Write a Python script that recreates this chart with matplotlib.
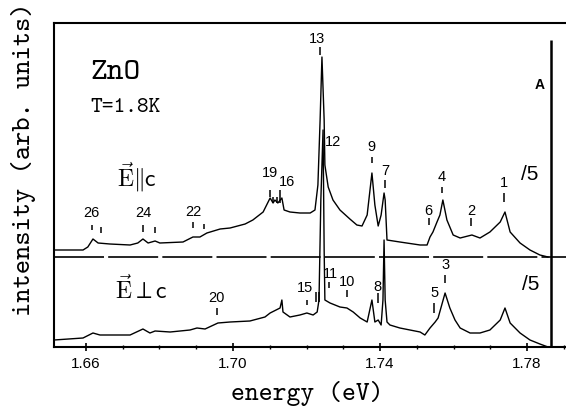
import matplotlib.pyplot as plt
import numpy as np

# upper trace, E || c  (energy in eV, intensity in arb. units)
par_energy = [1.6513, 1.6592, 1.6605, 1.6619, 1.6633, 1.6665, 1.6720, 1.6741, 1.6755, 1.6769,
              1.6788, 1.6801, 1.6864, 1.6891, 1.6910, 1.6929, 1.6965, 1.6992, 1.7033, 1.7054,
              1.7082, 1.7101, 1.7109, 1.7114, 1.7122, 1.7133, 1.7139, 1.7155, 1.7182, 1.7210,
              1.7223, 1.7231, 1.7237, 1.7242, 1.7248, 1.7250, 1.7259, 1.7272, 1.7291, 1.7318,
              1.7337, 1.7351, 1.7365, 1.7378, 1.7386, 1.7395, 1.7403, 1.7411, 1.7414, 1.7419,
              1.7454, 1.7509, 1.7528, 1.7536, 1.7544, 1.7555, 1.7563, 1.7571, 1.7582, 1.7599,
              1.7618, 1.7650, 1.7672, 1.7699, 1.7727, 1.7740, 1.7754, 1.7781, 1.7808, 1.7835,
              1.7857]
par_intensity = [97, 97, 100, 108, 104, 103, 102, 104, 108, 104,
                 106, 104, 105, 110, 110, 114, 118, 119, 123, 127,
                 135, 149, 144, 147, 144, 149, 137, 135, 134, 134,
                 137, 162, 227, 290, 227, 182, 160, 147, 137, 128,
                 122, 121, 132, 174, 142, 121, 132, 154, 147, 107,
                 105, 102, 102, 110, 115, 125, 132, 147, 127, 112,
                 109, 112, 109, 115, 125, 135, 115, 104, 97, 92,
                 90]

# lower trace, E perp c
perp_energy = [1.6513, 1.6592, 1.6619, 1.6638, 1.6720, 1.6755, 1.6774, 1.6788, 1.6829, 1.6883,
               1.6902, 1.6924, 1.6959, 1.6992, 1.7046, 1.7087, 1.7101, 1.7128, 1.7133, 1.7136,
               1.7155, 1.7182, 1.7201, 1.7218, 1.7229, 1.7234, 1.7239, 1.7245, 1.7248, 1.7250,
               1.7264, 1.7291, 1.7310, 1.7327, 1.7346, 1.7365, 1.7378, 1.7386, 1.7395, 1.7403,
               1.7408, 1.7411, 1.7414, 1.7419, 1.7427, 1.7454, 1.7509, 1.7522, 1.7536, 1.7550,
               1.7558, 1.7577, 1.7590, 1.7604, 1.7618, 1.7645, 1.7672, 1.7699, 1.7727, 1.7740,
               1.7754, 1.7781, 1.7808, 1.7835, 1.7857]
perp_intensity = [7, 9, 14, 12, 12, 18, 14, 16, 15, 17,
                  19, 18, 24, 25, 26, 30, 34, 39, 47, 35,
                  30, 32, 34, 32, 35, 47, 147, 217, 97, 47,
                  44, 40, 39, 35, 29, 25, 47, 25, 27, 22,
                  47, 107, 47, 25, 22, 19, 15, 12, 19, 25,
                  29, 54, 39, 27, 19, 14, 14, 17, 27, 39,
                  24, 14, 7, 3, 0]

# peak numbers
peak_text = ['26', '24', '22', '19', '16', '13', '12', '9', '7', '6', '4', '2', '1',
             '20', '15', '11', '10', '8', '5', '3']
peak_text_e = [1.6616, 1.6755, 1.6891, 1.7101, 1.7147, 1.7229, 1.7272, 1.7378, 1.7414, 1.7531,
               1.7569, 1.7648, 1.7737,
               1.6956, 1.7196, 1.7264, 1.7310, 1.7392, 1.7547, 1.7577]
peak_text_y = [134, 134, 135, 174, 165, 308, 205, 200, 176, 136, 170, 136, 164,
               49, 59, 73, 65, 60, 54, 82]

# short marker strokes under the numbers
mark_e = [1.6616, 1.6641, 1.6755, 1.6788, 1.6891, 1.6921, 1.7101, 1.7109, 1.7120, 1.7128,
          1.7237, 1.7378, 1.7414, 1.7533, 1.7569, 1.7648, 1.7737,
          1.6956, 1.7201, 1.7226, 1.7234, 1.7261, 1.7310, 1.7395, 1.7547, 1.7577]
mark_lo = [117, 114, 115, 114, 119, 118, 150, 144, 144, 144,
           292, 184, 159, 122, 154, 121, 145,
           32, 42, 45, 45, 59, 50, 44, 34, 64]
mark_hi = [122, 120, 122, 120, 125, 123, 157, 150, 150, 157,
           300, 190, 167, 129, 160, 129, 154,
           39, 47, 55, 55, 65, 57, 54, 44, 72]

line_a_e = 1.7865
split_level = 90

fig = plt.figure(figsize=(5.66, 4.12), dpi=100)
ax = fig.add_axes([54 / 566, 65 / 412, 512 / 566, 324 / 412])

ax.plot(par_energy, par_intensity, color='black', lw=1.0)
ax.plot(perp_energy, perp_intensity, color='black', lw=1.0)
ax.axhline(split_level, color='black', lw=1.2, ls=(0, (30, 2.5)))
ax.vlines(line_a_e, 0, 307, color='black', lw=1.8)
ax.vlines(mark_e, mark_lo, mark_hi, color='black', lw=1.1)

for t, e, y in zip(peak_text, peak_text_e, peak_text_y):
    ax.text(e, y, t, ha='center', va='center', fontsize=10.5, family='Liberation Sans')

ax.text(1.7835, 262, 'A', ha='center', va='center', fontsize=10, family='Liberation Sans',
        fontweight='bold')
ax.text(1.7808, 172, '/5', ha='center', va='center', fontsize=15, family='Liberation Sans')
ax.text(1.7811, 62, '/5', ha='center', va='center', fontsize=15, family='Liberation Sans')

plt.rcParams['mathtext.fontset'] = 'cm'
ax.text(1.6611, 274, 'ZnO', ha='left', va='center', fontsize=23, family='cmtt10')
ax.text(1.6611, 239, 'T=1.8K', ha='left', va='center', fontsize=16, family='cmtt10')
ax.text(1.6739, 170, r'$\vec{\mathrm{E}}\Vert\mathsf{c}$', ha='center', va='center',
        fontsize=17)
ax.text(1.6750, 57, r'$\vec{\mathrm{E}}\perp\mathsf{c}$', ha='center', va='center',
        fontsize=17)

ax.set_xlim(1.6513, 1.7906)
ax.set_ylim(0, 324)
ax.set_xticks([1.66, 1.70, 1.74, 1.78])
ax.set_xticklabels(['1.66', '1.70', '1.74', '1.78'], family='Liberation Sans', fontsize=11)
ax.set_xticks(np.arange(1.66, 1.79, 0.01), minor=True)
ax.tick_params(axis='x', which='major', direction='inout', length=6, width=1.2, pad=4)
ax.tick_params(axis='x', which='minor', direction='inout', length=3, width=1.0)
ax.set_yticks([])
ax.spines['right'].set_visible(False)
for s in ['left', 'top', 'bottom']:
    ax.spines[s].set_linewidth(1.5)

fig.text(24 / 566, 1 - 159 / 412, 'intensity (arb. units)', rotation=90, ha='center',
         va='center', fontsize=19.5, family='cmtt10')
fig.text(307 / 566, 1 - 393 / 412, 'energy (eV)', ha='center', va='center', fontsize=19,
         family='cmtt10')

fig.savefig('out.png', dpi=100)
